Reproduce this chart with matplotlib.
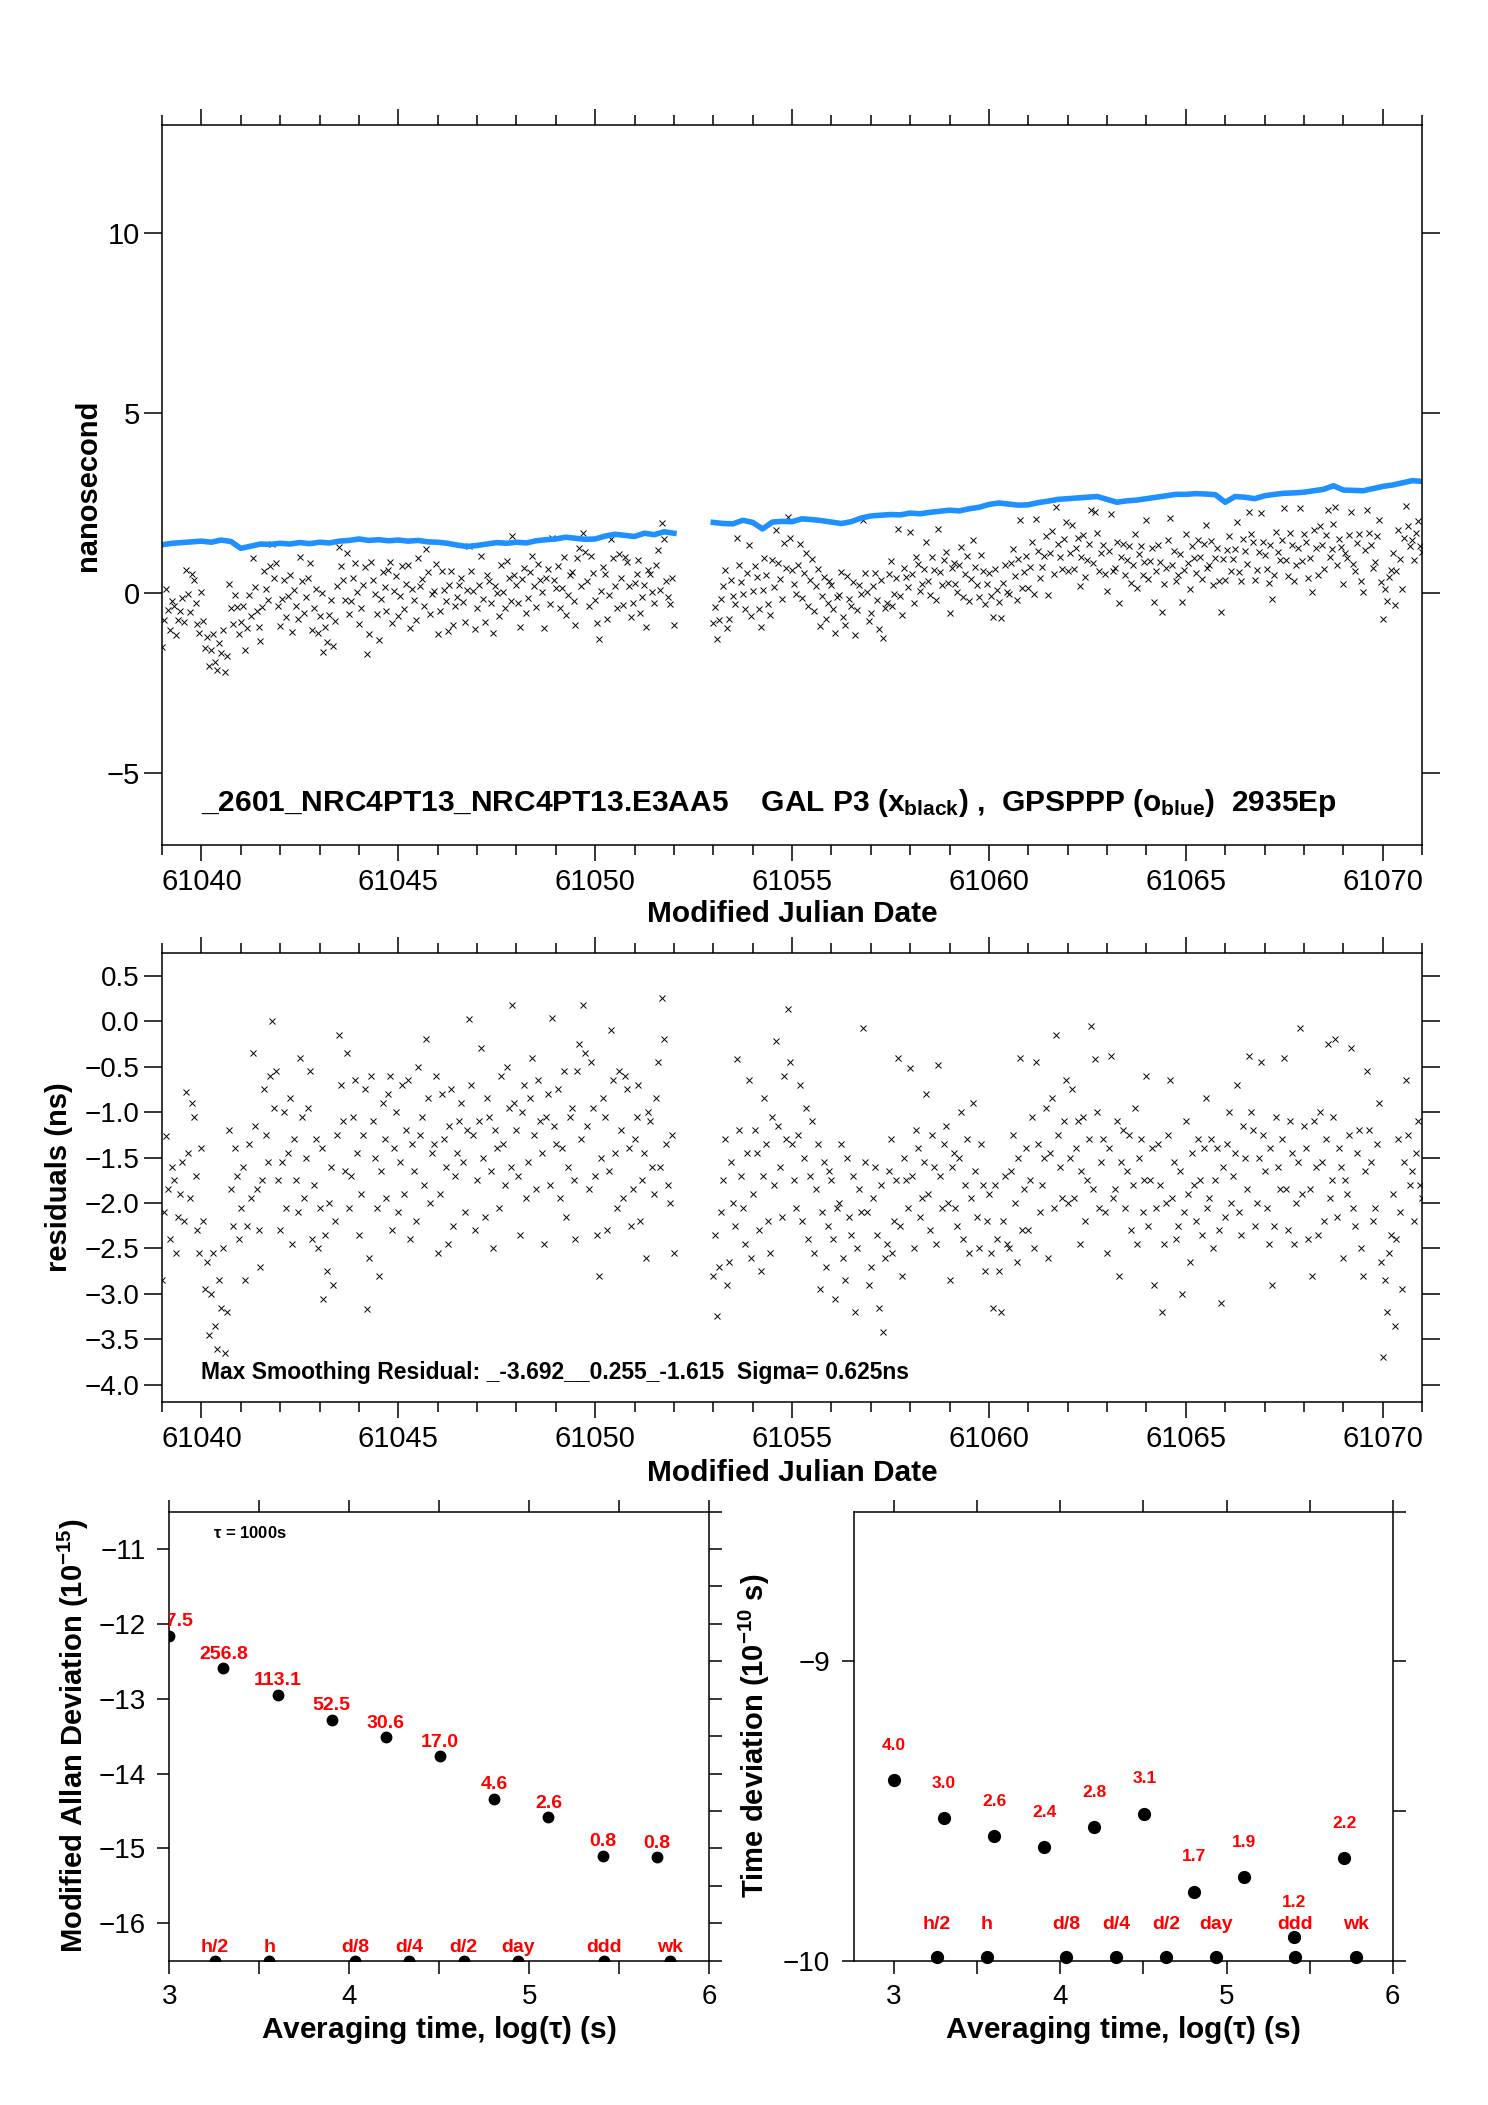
import numpy as np
import matplotlib
matplotlib.use("Agg")
import matplotlib.pyplot as plt
from matplotlib.ticker import MultipleLocator, FuncFormatter
from matplotlib.transforms import offset_copy

plt.rcParams['font.family'] = ['Liberation Sans', 'DejaVu Sans']
plt.rcParams['mathtext.fontset'] = 'custom'
plt.rcParams['mathtext.rm'] = 'Liberation Sans:bold'
plt.rcParams['mathtext.default'] = 'rm'
plt.rcParams['axes.linewidth'] = 1.1

# --- time series, sampled every 0.1 day (two arcs with a gap) ---
# second set of samples sits half a step later
start_a = 61039.0
start_b = 61053.0
step = 0.1

black_a = [-1.51, 0.10, -1.03, -0.37, -0.76, -0.15, 0.63, -0.53, 0.37, -0.87,
           0.04, -1.52, -2.03, -1.13, -2.15, -1.68, -2.20, 0.24, -0.86, -0.39,
           -0.81, -1.59, -0.06, 0.96, -0.51, -1.34, 0.61, -0.20, 1.36, 0.82,
           -0.92, 0.37, -0.09, -1.08, -0.36, 1.00, -0.56, 0.43, -1.02, 0.10,
           -0.64, -1.65, -1.36, -0.19, -0.77, 1.29, 0.35, 1.11, -0.23, 0.84,
           -0.85, 0.23, -1.70, 0.86, -0.03, -1.32, 0.57, -0.49, 0.85, 0.06,
           -0.63, 0.76, 0.25, -0.96, -0.20, 0.96, 0.39, 1.23, -0.58, 0.06,
           -1.14, 0.60, -0.21, 0.22, -0.90, -0.12, 0.41, -0.80, 1.31, 0.05,
           -0.43, 1.04, -0.80, 0.32, -1.11, 0.00, 0.79, -0.41, 0.43, 1.58,
           0.21, -0.95, 0.69, -0.14, 1.03, -0.40, 0.36, -0.98, 0.68, 1.53,
           0.15, -0.43, 0.99, -0.05, 0.59, -0.88, 1.26, 1.68, 0.34, 1.04,
           -0.20, -1.27, 0.71, -0.71, 1.51, 0.18, 1.07, -0.34, 0.85, -0.67,
           0.27, 0.91, -0.11, -0.95, 0.54, -0.28, 1.20, 1.94, 0.34, -0.32,
           -0.89]
black_a2 = [-0.75, -0.48, -0.22, -1.16, -0.50, -0.80, -0.04, 0.52, -0.27, -1.11,
            -0.77, -1.23, -1.59, -1.92, -1.39, -1.04, -1.76, -0.42, -0.05, -1.13,
            -0.35, -0.97, -0.65, 0.17, -0.95, -0.39, 0.10, 0.75, 0.41, -0.37,
            -0.17, -0.68, 0.51, 0.07, -0.71, 0.34, -0.12, 0.82, -0.41, -1.10,
            0.01, -0.95, -0.61, -1.48, 0.18, 0.74, -0.20, -0.59, 0.43, 0.04,
            -0.41, 0.73, -1.14, 0.37, -0.58, -0.17, 0.16, 0.65, -0.84, 0.47,
            -0.09, -0.45, 0.79, 0.10, -0.75, 0.20, -0.37, 0.57, -0.03, 0.81,
            -0.50, 0.09, -1.07, 0.61, -0.36, 0.22, -0.24, 0.09, 0.60, -0.99,
            0.23, -0.16, 0.51, -0.27, 0.19, -0.65, 0.04, 0.88, -0.21, 0.50,
            -0.29, 0.40, -0.56, 0.57, 0.19, 0.81, 0.02, 0.43, -0.31, 0.35,
            0.76, 0.13, -0.60, 0.49, -0.22, 0.96, 0.20, 1.14, -0.36, 0.55,
            -0.83, 0.05, 0.53, -0.05, 0.97, -0.42, 0.41, 1.00, 0.19, -0.27,
            0.54, -0.57, 0.21, 0.64, 0.03, 0.78, 0.07, 1.50, -0.11, 0.42]
black_b = [-0.84, -1.29, -0.16, 0.63, -0.73, -0.08, 1.54, 0.30, -0.44, 1.33,
           0.06, 0.44, -0.94, 0.97, -0.30, 0.92, 1.76, 0.39, 1.39, 2.11,
           0.63, -0.04, 1.35, 0.56, -0.35, 0.94, 0.18, -0.93, 0.45, -0.27,
           0.22, -1.10, -0.06, -0.66, 0.46, -0.37, -1.18, 0.21, 2.02, 0.02,
           -0.56, 0.55, -0.99, -1.25, -0.28, 0.88, -0.02, 1.77, -0.62, 0.45,
           1.70, -0.29, 0.80, 0.26, 1.43, -0.06, 0.65, 1.78, 0.23, 1.14,
           -0.55, 0.84, 0.03, 1.29, 0.52, -0.21, 1.46, 0.22, 1.05, -0.32,
           0.56, -0.67, 0.09, -0.70, 0.78, -0.03, 1.21, -0.20, 2.04, 0.59,
           0.15, 1.42, 2.05, 0.42, 1.03, -0.05, 1.72, 2.40, 1.00, 1.51,
           0.62, 1.88, 1.24, 0.19, 1.60, 0.91, 2.30, 2.25, 0.61, 1.33,
           0.05, 2.19, 0.69, -0.27, 1.35, 0.91, 0.27, 1.63, 1.09, 0.51,
           2.02, 0.89, -0.25, 1.32, -0.52, 0.70, 2.07, 1.18, 0.49, -0.26,
           1.64, 0.10, 0.96, 1.46, 0.40, 1.90, 0.79, 0.23, 1.26, -0.52,
           0.37, 1.58, 0.95, 1.98, 0.32, 1.16, 2.26, 1.43, 0.63, 2.22,
           1.05, 0.27, -0.17, 1.70, 0.91, 2.37, 0.47, 1.33, 0.78, 2.35,
           1.65, 0.42, 0.03, 1.25, 1.86, 0.68, 2.30, 1.21, 2.40, 1.50,
           0.26, 0.96, 2.25, 0.60, 1.64, 0.04, 2.31, 1.33, 0.86, 2.04,
           -0.73, -0.22, 0.64, -0.34, 1.74, 0.11, 2.43, 1.31, 0.92, 2.01,
           1.15]
black_b2 = [-0.40, -0.76, 0.18, -0.97, 0.37, -0.31, 0.78, -0.03, 0.55, -0.63,
            0.74, -0.45, 0.08, 0.51, -0.62, 0.17, 0.83, -0.16, 0.69, 1.53,
            0.24, 0.78, -0.14, 1.11, 0.35, -0.51, 0.67, -0.09, -0.71, 0.32,
            -0.44, -0.11, 0.58, -0.90, -0.18, 0.30, -0.46, -0.02, 0.55, -0.77,
            0.19, -0.20, 0.36, -0.43, 0.52, -0.37, 0.42, -0.08, 0.69, 0.16,
            0.52, 1.01, 0.05, 0.67, 0.33, 1.00, -0.19, 0.57, 0.93, 0.29,
            0.70, 0.24, 0.78, -0.10, 1.03, 0.40, 0.71, -0.12, 0.62, 0.25,
            -0.08, 0.68, -0.25, 0.29, 0.03, 0.82, 0.46, 0.94, 0.14, 1.04,
            0.71, -0.02, 1.16, 0.72, 1.59, 1.11, 0.53, 1.35, 0.66, 1.97,
            1.12, 0.68, 1.54, 1.00, 0.45, 1.36, 0.82, 1.68, 1.10, 0.52,
            1.18, 0.60, 1.42, 0.99, 0.50, 1.31, 0.77, 0.13, 1.30, 0.86,
            0.38, 1.24, 0.61, 0.87, 0.24, 1.46, 0.77, 0.34, 1.09, 0.64,
            0.84, 1.30, 0.56, 1.01, 1.35, 0.70, 1.44, 0.98, 0.34, 0.95,
            1.19, 0.61, 1.23, 0.57, 1.51, 0.80, 1.63, 0.37, 1.15, 1.43,
            0.66, 1.32, 0.49, 1.15, 1.46, 0.92, 1.68, 0.33, 1.24, 0.89,
            1.41, 0.98, 1.74, 0.50, 1.32, 1.60, 0.99, 1.93, 0.78, 1.28,
            1.11, 1.60, 0.80, 1.40, 0.34, 1.20, 1.67, 0.70, 1.57, 0.30,
            0.12, 0.44, 1.10, 0.62, 0.95, 1.52, 1.85, 1.47, 1.66, 1.30]

resid_a = [-2.85, -1.26, -2.40, -1.75, -2.15, -1.55, -0.78, -1.95, -1.05, -2.30,
           -1.40, -2.95, -3.45, -2.55, -3.60, -3.15, -3.65, -1.20, -2.25, -1.70,
           -2.05, -2.85, -1.35, -0.35, -1.85, -2.70, -0.75, -1.55, 0.00, -0.55,
           -2.30, -1.00, -1.45, -2.45, -1.75, -0.40, -1.95, -0.95, -2.40, -1.30,
           -2.05, -3.05, -2.75, -1.60, -2.20, -0.15, -1.10, -0.35, -1.70, -0.65,
           -2.35, -1.25, -3.17, -0.60, -1.50, -2.80, -0.90, -1.95, -0.60, -1.40,
           -2.10, -0.70, -1.20, -2.40, -1.65, -0.50, -1.05, -0.20, -2.00, -1.35,
           -2.55, -0.80, -1.60, -1.15, -2.25, -1.45, -0.90, -2.10, 0.02, -1.25,
           -1.75, -0.30, -2.15, -1.05, -2.50, -1.40, -0.60, -1.80, -0.95, 0.18,
           -1.20, -2.35, -0.70, -1.55, -0.40, -1.85, -1.10, -2.45, -0.80, 0.04,
           -1.35, -1.95, -0.55, -1.60, -0.95, -2.40, -0.25, 0.18, -1.15, -0.45,
           -1.70, -2.80, -0.85, -2.30, -0.10, -1.45, -0.55, -1.95, -0.75, -2.25,
           -1.30, -0.70, -1.75, -2.60, -1.10, -1.90, -0.45, 0.255, -1.35, -2.00,
           -2.55]
resid_a2 = [-2.10, -1.85, -1.60, -2.55, -1.90, -2.20, -1.45, -0.90, -1.70, -2.55,
            -2.20, -2.65, -3.00, -3.35, -2.85, -2.50, -3.20, -1.85, -1.40, -2.40,
            -1.60, -2.25, -1.95, -1.15, -2.30, -1.75, -1.25, -0.60, -0.95, -1.75,
            -1.55, -2.05, -0.85, -1.30, -2.10, -1.05, -1.50, -0.55, -1.80, -2.50,
            -1.40, -2.35, -2.00, -2.90, -1.25, -0.70, -1.65, -2.05, -1.05, -1.45,
            -1.90, -0.75, -2.60, -1.10, -2.05, -1.65, -1.30, -0.80, -2.30, -1.00,
            -1.55, -1.90, -0.65, -1.35, -2.20, -1.25, -1.80, -0.85, -1.45, -0.60,
            -1.90, -1.30, -2.45, -0.75, -1.70, -1.10, -1.55, -1.20, -0.70, -2.30,
            -1.10, -1.50, -0.85, -1.65, -1.20, -2.05, -1.35, -0.50, -1.60, -0.90,
            -1.70, -1.00, -1.95, -0.85, -1.25, -0.65, -1.45, -1.05, -1.80, -1.15,
            -0.75, -1.40, -2.15, -1.05, -1.75, -0.55, -1.30, -0.35, -1.85, -0.95,
            -2.35, -1.50, -1.05, -1.65, -0.65, -2.05, -1.20, -0.60, -1.40, -1.85,
            -1.05, -2.20, -1.45, -1.00, -1.60, -0.85, -1.60, -0.20, -1.80, -1.25]
resid_b = [-2.80, -3.24, -2.10, -1.30, -2.65, -2.00, -0.42, -1.70, -2.45, -0.65,
           -1.90, -1.45, -2.75, -0.85, -2.20, -1.05, -0.22, -1.60, -0.60, 0.13,
           -1.35, -2.05, -0.70, -1.50, -2.40, -1.10, -1.85, -2.95, -1.55, -2.25,
           -1.75, -3.05, -2.00, -2.60, -1.50, -2.35, -3.20, -1.85, -0.07, -2.10,
           -2.70, -1.60, -3.15, -3.42, -2.45, -1.30, -2.20, -0.40, -2.80, -1.75,
           -0.52, -2.50, -1.40, -1.95, -0.80, -2.30, -1.60, -0.48, -2.05, -1.15,
           -2.85, -1.45, -2.25, -1.00, -1.80, -2.55, -0.90, -2.15, -1.35, -2.75,
           -1.90, -3.15, -2.40, -3.20, -1.70, -2.50, -1.25, -2.65, -0.40, -1.85,
           -2.30, -1.05, -0.45, -2.10, -1.50, -2.60, -0.85, -0.15, -1.60, -1.10,
           -2.00, -0.75, -1.40, -2.45, -1.05, -1.75, -0.05, -0.42, -2.05, -1.30,
           -2.55, -0.38, -1.85, -2.80, -1.20, -1.65, -2.30, -0.95, -1.50, -2.10,
           -0.60, -1.75, -2.90, -1.35, -3.20, -2.00, -0.65, -1.55, -2.25, -3.00,
           -1.10, -2.65, -1.80, -1.30, -2.35, -0.85, -1.95, -2.50, -1.40, -3.10,
           -2.15, -1.00, -1.70, -0.70, -2.35, -1.50, -0.38, -1.20, -2.00, -0.45,
           -1.65, -2.45, -2.90, -1.05, -1.85, -0.40, -2.30, -1.45, -2.00, -0.08,
           -1.15, -2.40, -2.80, -1.60, -1.00, -2.20, -0.25, -1.75, -0.20, -1.40,
           -2.60, -1.90, -0.30, -2.25, -1.20, -2.80, -0.55, -1.55, -2.05, -0.90,
           -3.69, -3.20, -2.35, -3.35, -1.30, -2.95, -0.65, -1.80, -2.20, -1.10,
           -1.95]
resid_b2 = [-2.35, -2.70, -1.75, -2.90, -1.55, -2.25, -1.20, -2.05, -1.45, -2.60,
            -1.20, -2.30, -1.70, -1.35, -2.55, -1.80, -1.15, -2.15, -1.30, -0.45,
            -1.75, -1.25, -2.20, -0.95, -1.70, -2.55, -1.35, -2.10, -2.70, -1.65,
            -2.40, -2.05, -1.35, -2.85, -2.15, -1.70, -2.50, -2.10, -1.55, -2.90,
            -1.95, -2.35, -1.80, -2.60, -1.65, -2.55, -1.75, -2.25, -1.50, -2.05,
            -1.70, -1.20, -2.15, -1.55, -1.90, -1.25, -2.45, -1.70, -1.35, -2.00,
            -1.60, -2.05, -1.50, -2.40, -1.30, -1.95, -1.65, -2.50, -1.80, -2.20,
            -2.55, -1.80, -2.75, -2.20, -2.45, -1.65, -2.00, -1.50, -2.30, -1.40,
            -1.75, -2.50, -1.35, -1.80, -0.95, -1.45, -2.05, -1.25, -1.95, -0.65,
            -1.50, -1.95, -1.10, -1.65, -2.20, -1.30, -1.85, -1.00, -1.55, -2.10,
            -1.40, -1.95, -1.10, -1.55, -2.05, -1.25, -1.80, -2.45, -1.30, -1.75,
            -2.25, -1.40, -2.05, -1.80, -2.45, -1.25, -1.95, -2.40, -1.65, -2.10,
            -1.90, -1.45, -2.20, -1.75, -1.40, -2.05, -1.30, -1.75, -2.30, -1.60,
            -1.35, -2.00, -1.45, -2.10, -1.15, -1.85, -1.00, -2.25, -1.50, -1.25,
            -2.05, -1.40, -2.25, -1.60, -1.30, -1.85, -1.10, -2.45, -1.55, -1.90,
            -1.40, -1.85, -1.10, -2.35, -1.55, -1.30, -1.95, -1.05, -2.15, -1.60,
            -1.75, -1.25, -2.05, -1.45, -2.50, -1.65, -1.20, -2.20, -1.35, -2.65,
            -2.85, -2.55, -1.90, -2.40, -2.10, -1.55, -1.25, -1.65, -1.45, -1.80]

# smoothed GPSPPP curve, every 0.25 day
blue_step = 0.25
blue_a = [1.34, 1.38, 1.40, 1.42, 1.44, 1.41, 1.47, 1.43, 1.24, 1.30, 1.36, 1.35, 1.38,
          1.36, 1.40, 1.37, 1.41, 1.39, 1.44, 1.46, 1.50, 1.46, 1.48, 1.45, 1.47, 1.44,
          1.46, 1.42, 1.41, 1.38, 1.33, 1.29, 1.32, 1.36, 1.40, 1.38, 1.41, 1.39, 1.45,
          1.48, 1.50, 1.55, 1.52, 1.49, 1.50, 1.58, 1.63, 1.60, 1.57, 1.66, 1.62, 1.70,
          1.66]
blue_b = [1.96, 1.93, 1.92, 2.02, 1.96, 1.78, 1.97, 1.99, 1.98, 2.06, 2.04, 2.01, 1.97,
          1.93, 1.98, 2.08, 2.14, 2.16, 2.18, 2.17, 2.22, 2.20, 2.24, 2.27, 2.30, 2.28,
          2.34, 2.38, 2.46, 2.50, 2.47, 2.44, 2.45, 2.51, 2.55, 2.60, 2.62, 2.64, 2.66,
          2.68, 2.60, 2.52, 2.56, 2.58, 2.62, 2.66, 2.70, 2.74, 2.74, 2.76, 2.75, 2.73,
          2.52, 2.68, 2.66, 2.62, 2.70, 2.74, 2.77, 2.78, 2.80, 2.84, 2.88, 2.98, 2.86,
          2.85, 2.84, 2.90, 2.96, 3.00, 3.06, 3.12, 3.10]

# --- stability ---
tau_s = [1000, 2000, 4000, 8000, 16000, 32000, 64000, 128000, 256000, 512000]
mdev_e15 = [697.5, 256.8, 113.1, 52.5, 30.6, 17.0, 4.6, 2.6, 0.8, 0.76]
tdev_e10 = [4.0, 3.0, 2.6, 2.4, 2.8, 3.1, 1.7, 1.9, 1.2, 2.2]
tag_names = ['h/2', 'h', 'd/8', 'd/4', 'd/2', 'day', 'ddd', 'wk']
tag_s = [1800, 3600, 10800, 21600, 43200, 86400, 259200, 604800]

title = ("_2601_NRC4PT13_NRC4PT13.E3AA5    GAL P3 (x$_{black}$) ,  "
         "GPSPPP (o$_{blue}$)  2935Ep")
resid_note = "Max Smoothing Residual: _-3.692__0.255_-1.615  Sigma= 0.625ns"


def times(start, vals, dt, shift=0.0):
    return start + shift + dt * np.arange(len(vals))


fig = plt.figure(figsize=(14.88, 21.05), dpi=100)
ax1 = fig.add_axes([0.1089, 0.5986, 0.8468, 0.3420])
ax2 = fig.add_axes([0.1089, 0.3341, 0.8468, 0.2131])
ax3 = fig.add_axes([0.1137, 0.0686, 0.3629, 0.2133])
ax4 = fig.add_axes([0.5736, 0.0686, 0.3624, 0.2133])

minus_fmt = FuncFormatter(lambda v, p: ('%g' % v).replace('-', '\u2212'))
minus_fmt1 = FuncFormatter(lambda v, p: ('%.1f' % v).replace('-', '\u2212'))


def mjd_axis(ax):
    ax.set_xlim(61039, 61071)
    ax.xaxis.set_major_locator(MultipleLocator(5))
    ax.xaxis.set_minor_locator(MultipleLocator(1))
    ax.tick_params(axis='both', which='both', direction='out', top=True, right=True,
                   labelsize=21, width=1.1)
    ax.tick_params(axis='x', which='major', length=11.5, pad=5)
    ax.tick_params(axis='x', which='minor', length=7)
    ax.tick_params(axis='y', which='major', length=13, pad=3)
    ax.tick_params(axis='y', which='minor', length=0)


xstyle = dict(color='black', ms=4.3, mew=0.7, ls='none', marker='x')

# top panel: raw data
for t, v in ((times(start_a, black_a, step), black_a),
             (times(start_a, black_a2, step, 0.05), black_a2),
             (times(start_b, black_b, step), black_b),
             (times(start_b, black_b2, step, 0.05), black_b2)):
    ax1.plot(t, v, **xstyle)
for t, v in ((times(start_a, blue_a, blue_step), blue_a),
             (times(start_b, blue_b, blue_step), blue_b)):
    ax1.plot(t, v, '-', color='#1E90FF', lw=4)
mjd_axis(ax1)
ax1.set_ylim(-7, 13)
ax1.yaxis.set_major_locator(MultipleLocator(5))
ax1.yaxis.set_major_formatter(minus_fmt)
ax1.set_xlabel('Modified Julian Date', fontsize=21.5, fontweight='bold')
ax1.xaxis.set_label_coords(0.5, -0.077)
ax1.set_ylabel('nanosecond', fontsize=21, fontweight='bold')
ax1.yaxis.set_label_coords(-0.048, 0.5)
ax1.text(61040, -6.05, title, fontsize=21.5, fontweight='bold', va='baseline', ha='left')

# middle panel: residuals
for t, v in ((times(start_a, resid_a, step), resid_a),
             (times(start_a, resid_a2, step, 0.05), resid_a2),
             (times(start_b, resid_b, step), resid_b),
             (times(start_b, resid_b2, step, 0.05), resid_b2)):
    ax2.plot(t, v, **xstyle)
mjd_axis(ax2)
ax2.set_ylim(-4.185, 0.748)
ax2.yaxis.set_major_locator(MultipleLocator(0.5))
ax2.yaxis.set_major_formatter(minus_fmt1)
ax2.tick_params(axis='y', labelsize=20)
ax2.set_xlabel('Modified Julian Date', fontsize=21.5, fontweight='bold')
ax2.xaxis.set_label_coords(0.5, -0.127)
ax2.set_ylabel('residuals (ns)', fontsize=21, fontweight='bold')
ax2.yaxis.set_label_coords(-0.0706, 0.5)
ax2.text(61040, -3.86, resid_note, fontsize=16.5, fontweight='bold', va='center', ha='left')


def stab_axis(ax):
    ax.xaxis.set_major_locator(MultipleLocator(1))
    ax.xaxis.set_minor_locator(MultipleLocator(0.5))
    ax.yaxis.set_major_locator(MultipleLocator(1))
    ax.yaxis.set_minor_locator(MultipleLocator(0.5))
    ax.yaxis.set_major_formatter(minus_fmt)
    ax.tick_params(axis='both', which='both', direction='out', width=1.1, labelsize=20)
    ax.tick_params(axis='x', which='both', top=True, length=9, pad=8)
    ax.tick_params(axis='y', which='major', right=True, length=9, pad=8)
    ax.tick_params(axis='y', which='minor', left=False, right=True, length=9)
    ax.set_xlabel(r'Averaging time, log($\tau$) (s)', fontsize=21.5, fontweight='bold')
    ax.xaxis.set_label_coords(0.5, -0.118)


lx = np.log10(tau_s)
tx = np.log10(tag_s)

# bottom left: modified Allan deviation
xt3 = ax3.get_xaxis_transform()
up3 = offset_copy(ax3.transData, fig=fig, x=0, y=10, units='points')
ly3 = np.log10(np.array(mdev_e15) * 1e-15)
ax3.plot(lx, ly3, 'o', color='black', ms=7.5)
for x, y, v in zip(lx, ly3, mdev_e15):
    ax3.text(x, y, '%.1f' % v, transform=up3, ha='center', va='center', clip_on=True,
             color='red', fontsize=14, fontweight='bold')
ax3.plot(tx, np.zeros(len(tx)), 'o', color='black', ms=7.5, transform=xt3)
for x, name in zip(tx, tag_names):
    ax3.text(x, 0.029, name, transform=xt3, ha='center', va='center',
             color='red', fontsize=14, fontweight='bold')
ax3.text(3.243, -10.79, r'$\tau$ = 1000s', fontsize=12, fontweight='bold',
         ha='left', va='center')
ax3.set_xlim(3, 6)
ax3.set_ylim(-16.5, -10.5)
stab_axis(ax3)
ax3.set_ylabel('Modified Allan Deviation (10$^{-15}$)', fontsize=21, fontweight='bold')
ax3.yaxis.set_label_coords(-0.145, 0.5)

# bottom right: time deviation
xt4 = ax4.get_xaxis_transform()
up4 = offset_copy(ax4.transData, fig=fig, x=0, y=25, units='points')
ly4 = np.log10(np.array(tdev_e10) * 1e-10)
ax4.plot(lx, ly4, 'o', color='black', ms=8.5)
for x, y, v in zip(lx, ly4, tdev_e10):
    ax4.text(x, y, '%.1f' % v, transform=up4, ha='center', va='center',
             color='red', fontsize=12.5, fontweight='bold')
ax4.plot(tx, np.full(len(tx), 0.007), 'o', color='black', ms=8.5, transform=xt4,
         clip_on=False)
for x, name in zip(tx, tag_names):
    ax4.text(x, 0.08, name, transform=xt4, ha='center', va='center',
             color='red', fontsize=14, fontweight='bold')
ax4.set_xlim(2.756, 6)
ax4.set_ylim(-10, -8.5)
stab_axis(ax4)
ax4.set_ylabel('Time deviation (10$^{-10}$ s)', fontsize=21, fontweight='bold')
ax4.yaxis.set_label_coords(-0.151, 0.5)

fig.savefig('out.png', dpi=100)
